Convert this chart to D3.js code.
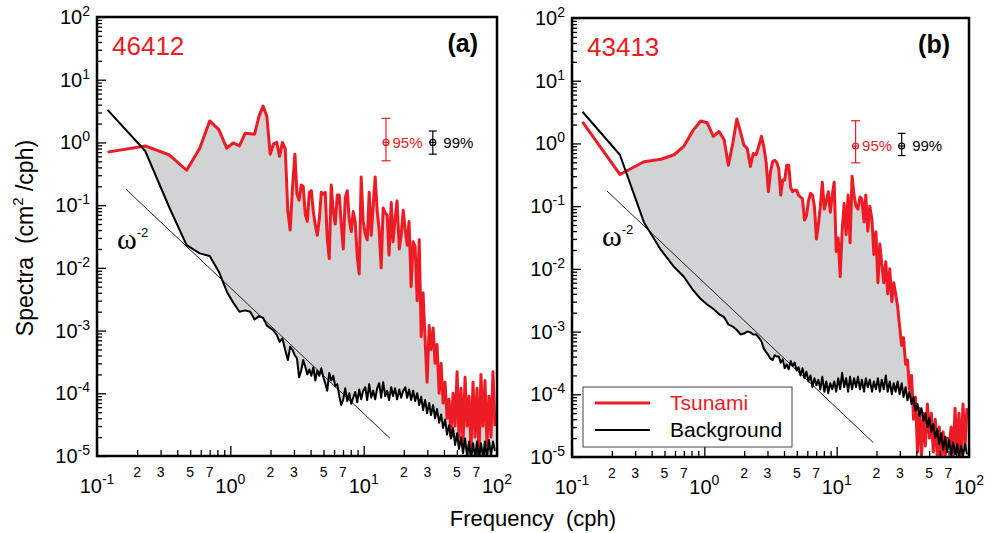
<!DOCTYPE html>
<html>
<head>
<meta charset="utf-8">
<script src="https://cdn.jsdelivr.net/npm/d3@7"></script>
<style>
  body { margin: 0; background: #fff; }
  svg text { font-family: "Liberation Sans", Arial, Helvetica, sans-serif; }
</style>
</head>
<body>
<svg id="chart" width="993" height="533"></svg>
<script>
// spectral estimates (cph, cm^2/cph)
const freq = [
  0.12, 0.23, 0.35, 0.47, 0.59, 0.70, 0.82, 0.94, 1.05, 1.17, 1.29, 1.41, 1.52, 1.64, 1.76,
  1.88, 1.99, 2.11, 2.23, 2.34, 2.46, 2.58, 2.70, 2.81, 2.93, 3.05, 3.16, 3.28, 3.40, 3.52,
  3.65, 3.78, 3.91, 4.05, 4.19, 4.34, 4.49, 4.65, 4.81, 4.98,
  5.15, 5.33, 5.52, 5.71, 5.91, 6.12, 6.34, 6.56, 6.79, 7.03,
  7.27, 7.53, 7.79, 8.07, 8.35, 8.64, 8.95, 9.26, 9.58, 9.92,
  10.27, 10.63, 11.0, 11.39, 11.79, 12.2, 12.63, 13.07, 13.53, 14.0,
  14.5, 15.0, 15.5, 16.1, 16.6, 17.2, 17.8, 18.5, 19.1, 19.8,
  20.5, 21.2, 21.9, 22.7, 23.5, 24.3, 25.2, 26.1, 27.0, 27.9,
  28.9, 29.9, 31.0, 32.0, 33.2, 34.3, 35.5, 36.8, 38.1, 39.4,
  40.8, 42.2, 43.7, 45.2, 46.8, 48.5, 50.2, 51.9, 53.7, 55.6,
  57.6, 59.6, 61.7, 63.8, 66.1, 68.4, 70.8, 73.3, 75.8, 78.5,
  81.3, 84.1, 87.0, 90.1, 93.3, 96.5
];

const tsunami46412 = [
  0.70, 0.88, 0.63, 0.36, 0.81, 2.2, 1.6, 0.81, 0.98, 0.88, 1.4, 1.38, 1.35, 2.6, 3.8,
  2.6, 0.65, 0.95, 1.0, 0.6, 1.0, 0.8, 0.08, 0.04, 0.2, 0.65, 0.15, 0.12, 0.21, 0.2,
  0.07, 0.055, 0.16, 0.17, 0.08, 0.048, 0.033, 0.06, 0.16, 0.15,
  0.16, 0.03, 0.014, 0.21, 0.08, 0.05, 0.145, 0.145, 0.05, 0.02,
  0.13, 0.17, 0.06, 0.038, 0.079, 0.055, 0.015, 0.008, 0.28, 0.055,
  0.035, 0.028, 0.16, 0.033, 0.10, 0.28, 0.08, 0.04, 0.010, 0.09,
  0.075, 0.069, 0.016, 0.11, 0.026, 0.06, 0.117, 0.02, 0.033, 0.083,
  0.04, 0.023, 0.055, 0.005, 0.026, 0.022, 0.003, 0.028, 8e-4, 0.004,
  7e-4, 1.5e-4, 1.2e-3, 5e-4, 1.1e-3, 3e-4, 6e-4, 1e-4, 3e-4, 7e-5,
  1.5e-4, 4e-5, 8e-5, 2e-5, 1e-4, 3e-5, 2.2e-4, 2e-5, 1.2e-4, 1.5e-5,
  1.8e-4, 3e-5, 9e-5, 1.2e-5, 1.5e-4, 2e-5, 1.2e-4, 1e-5, 2e-4, 3e-5,
  1.6e-4, 1.5e-5, 9e-5, 2e-5, 2.2e-4, 3e-5
];

const background46412 = [
  3.3, 0.73, 0.09, 0.023, 0.017, 0.0155, 0.0087, 0.0042, 0.0028, 0.002, 0.0021, 0.002, 0.0015, 0.0017, 0.0016,
  0.0012, 0.0011, 0.001, 8.5e-4, 6.6e-4, 7.5e-4, 4.9e-4, 3.4e-4, 5.5e-4, 4.9e-4, 4.0e-4, 3.6e-4, 1.8e-4, 2.3e-4, 3.4e-4,
  2.65e-4, 2.0e-4, 2.4e-4, 1.9e-4, 2.6e-4, 1.6e-4, 2.3e-4, 1.9e-4, 2.5e-4, 1.8e-4,
  1.44e-4, 1.1e-4, 2.1e-4, 1.6e-4, 1.9e-4, 1.3e-4, 1.4e-4, 9e-5, 6.5e-5, 8e-5,
  1.2e-4, 7.5e-5, 1.0e-4, 6.8e-5, 8.5e-5, 1.05e-4, 7.2e-5, 1.15e-4, 8e-5, 1.1e-4,
  1.25e-4, 7.8e-5, 1.4e-4, 8.5e-5, 1.1e-4, 8e-5, 1.2e-4, 1.45e-4, 8.5e-5, 1.5e-4,
  9e-5, 1.1e-4, 7.8e-5, 1.25e-4, 9e-5, 1.2e-4, 8e-5, 1.15e-4, 8.5e-5, 1.1e-4,
  1.25e-4, 8.5e-5, 1.15e-4, 7.8e-5, 1.1e-4, 7.5e-5, 1.0e-4, 6.5e-5, 8.8e-5, 5.4e-5,
  7.8e-5, 4.8e-5, 7e-5, 4.5e-5, 6.5e-5, 4e-5, 5.6e-5, 3.4e-5, 4.6e-5, 2.8e-5,
  3.8e-5, 2.2e-5, 3.1e-5, 1.9e-5, 2.8e-5, 1.5e-5, 2.3e-5, 1.3e-5, 2.0e-5, 1.1e-5,
  1.9e-5, 1.0e-5, 1.7e-5, 8.5e-6, 1.6e-5, 9.5e-6, 1.7e-5, 8.5e-6, 1.6e-5, 9.5e-6,
  1.7e-5, 9e-6, 1.8e-5, 1.0e-5, 1.7e-5, 1.2e-5
];

const tsunami43413 = [
  2.2, 0.32, 0.51, 0.56, 0.66, 0.9, 1.6, 2.28, 2.14, 1.3, 1.55, 1.15, 0.45, 1.0, 2.45,
  1.5, 0.94, 0.83, 0.43, 0.69, 0.66, 0.9, 1.3, 0.9, 0.5, 0.17, 0.35, 0.51, 0.54, 0.5,
  0.4, 0.15, 0.26, 0.26, 0.45, 0.45, 0.2, 0.17, 0.18, 0.18,
  0.15, 0.14, 0.13, 0.06, 0.07, 0.12, 0.16, 0.15, 0.1, 0.03,
  0.05, 0.1, 0.24, 0.09, 0.12, 0.17, 0.08, 0.15, 0.24, 0.019,
  0.031, 0.0075, 0.04, 0.11, 0.035, 0.15, 0.026, 0.3, 0.15, 0.1,
  0.09, 0.14, 0.13, 0.056, 0.15, 0.04, 0.1, 0.06, 0.017, 0.039,
  0.006, 0.025, 0.012, 0.006, 0.013, 0.004, 0.01, 0.003, 0.006, 0.004,
  2.5e-3, 1.2e-3, 6e-4, 8e-4, 3e-4, 3.5e-4, 1.2e-4, 2e-4, 4e-5, 9e-5,
  1.2e-5, 6e-5, 1e-5, 5e-5, 1.5e-5, 7e-5, 2e-5, 5e-5, 1.2e-5, 4e-5,
  1e-5, 3e-5, 8e-6, 2.5e-5, 1e-5, 2e-5, 1.5e-5, 3e-5, 1e-5, 6e-5,
  1.2e-5, 5e-5, 1e-5, 7e-5, 1.5e-5, 6e-5
];

const background43413 = [
  3.2, 0.66, 0.055, 0.02, 0.0108, 0.0075, 0.0046, 0.0033, 0.0027, 0.0023, 0.0019, 0.0017, 0.0013, 0.0012, 0.00106,
  9e-4, 9.3e-4, 1e-3, 9.7e-4, 9e-4, 9e-4, 8e-4, 7e-4, 5.4e-4, 4.7e-4, 4.2e-4, 3.7e-4, 3.5e-4, 4.2e-4, 4.0e-4,
  4.0e-4, 3.2e-4, 3.6e-4, 2.6e-4, 3.0e-4, 2.5e-4, 3.4e-4, 2.8e-4, 3.2e-4, 2.4e-4,
  2.7e-4, 2.0e-4, 2.6e-4, 1.8e-4, 2.3e-4, 1.6e-4, 2.0e-4, 1.3e-4, 1.8e-4, 1.4e-4,
  1.7e-4, 1.2e-4, 1.9e-4, 1.1e-4, 1.6e-4, 1.05e-4, 1.5e-4, 1.2e-4, 1.6e-4, 1.1e-4,
  1.8e-4, 1.2e-4, 2.2e-4, 1.3e-4, 1.8e-4, 1.1e-4, 1.9e-4, 1.2e-4, 1.8e-4, 1.3e-4,
  1.9e-4, 1.2e-4, 1.7e-4, 1.1e-4, 1.8e-4, 1.3e-4, 1.7e-4, 1.1e-4, 1.6e-4, 1.2e-4,
  1.8e-4, 1.1e-4, 1.7e-4, 1.2e-4, 2.0e-4, 1.1e-4, 1.6e-4, 1.0e-4, 1.5e-4, 1.1e-4,
  1.6e-4, 1.0e-4, 1.5e-4, 9e-5, 1.3e-4, 8e-5, 1.1e-4, 7e-5, 9e-5, 5.5e-5,
  7e-5, 4.5e-5, 6e-5, 3.8e-5, 5e-5, 3e-5, 4.2e-5, 2.5e-5, 3.4e-5, 2e-5,
  2.8e-5, 1.6e-5, 2.4e-5, 1.3e-5, 2.1e-5, 1.2e-5, 1.9e-5, 1.05e-5, 1.7e-5, 1.1e-5,
  1.6e-5, 1.0e-5, 1.5e-5, 1.05e-5, 1.6e-5, 1.1e-5
];

const stations = ["46412", "43413"];
const panelTags = ["(a)", "(b)"];
const xDecades = [-1, 0, 1, 2];
const yDecades = [-5, -4, -3, -2, -1, 0, 1, 2];
const xMinorLabels = [2, 3, 5, 7];
const legendNames = ["Tsunami", "Background"];

// omega^-2 reference line end points [freq, spectrum]
const slope46412 = [[0.165, 0.179], [15.8, 1.9e-5]];
const slope43413 = [[0.184, 0.174], [18.9, 1.7e-5]];

// confidence bars: [freq, low, centre, high]
const ci95 = [[14.7, 0.51, 1.0, 2.42], [13.9, 0.49, 0.91, 2.3]];
const ci99 = [[33, 0.65, 1.0, 1.52], [31, 0.64, 0.91, 1.45]];

const red = "#ed1c24";
const fillGray = "#d1d3d4";

function mySpectrumPanel(cfg) {

    let width = cfg.width;
    let height = cfg.height;

    function powerText(sel, e, big, small, up) {
        sel.append("tspan").attr("font-size", big).text("10");
        sel.append("tspan").attr("font-size", small).attr("dy", -up).text(e);
    }

    function my(selection) {
        let g = selection.append("g").attr("transform", `translate(${cfg.left},${cfg.top})`);

        let x = d3.scaleLog().domain([0.1, 100]).range([0, width]);
        let y = d3.scaleLog().domain([1e-5, 100]).range([height, 0]);

        let pts = freq.map((f, i) => ({f: f, ts: cfg.tsunami[i], bg: cfg.background[i]}));

        let defs = g.append("defs");
        defs.append("clipPath").attr("id", "plot-" + cfg.id)
            .append("rect").attr("width", width).attr("height", height);
        // region above the background curve
        defs.append("clipPath").attr("id", "above-" + cfg.id)
            .append("path")
            .attr("d", d3.area().x(d => x(d.f)).y0(-20).y1(d => y(d.bg))(pts));

        let plot = g.append("g").attr("clip-path", `url(#plot-${cfg.id})`);

        // shaded excess: under tsunami curve, above background curve
        plot.append("g").attr("clip-path", `url(#above-${cfg.id})`)
            .append("path")
            .attr("d", d3.area().x(d => x(d.f)).y0(height + 20).y1(d => y(d.ts))(pts))
            .attr("fill", fillGray);

        plot.append("path")
            .attr("d", d3.line().x(d => x(d[0])).y(d => y(d[1]))(cfg.slope))
            .attr("fill", "none").attr("stroke", "#231f20").attr("stroke-width", 1);

        plot.append("path")
            .attr("d", d3.line().x(d => x(d.f)).y(d => y(d.ts))(pts))
            .attr("fill", "none").attr("stroke", red)
            .attr("stroke-width", 3).attr("stroke-linejoin", "round");

        plot.append("path")
            .attr("d", d3.line().x(d => x(d.f)).y(d => y(d.bg))(pts))
            .attr("fill", "none").attr("stroke", "#000")
            .attr("stroke-width", 2).attr("stroke-linejoin", "round");

        // ticks, drawn inward
        let yMajor = yDecades.map(e => Math.pow(10, e));
        let yMinor = [];
        yDecades.slice(0, -1).forEach(e => { for (let k = 2; k < 10; k++) yMinor.push(k * Math.pow(10, e)); });
        let xMajor = xDecades.map(e => Math.pow(10, e));
        let xMinor = [];
        xDecades.slice(0, -1).forEach(e => { for (let k = 2; k < 10; k++) xMinor.push(k * Math.pow(10, e)); });

        let axes = g.append("g").attr("class", "axes");
        axes.append("g").call(d3.axisLeft(y).tickValues(yMinor).tickSize(-5).tickFormat(""));
        axes.append("g").call(d3.axisLeft(y).tickValues(yMajor).tickSize(-9).tickFormat(""));
        axes.append("g").attr("transform", `translate(0,${height})`)
            .call(d3.axisBottom(x).tickValues(xMinor).tickSize(-6).tickFormat(""));
        axes.append("g").attr("transform", `translate(0,${height})`)
            .call(d3.axisBottom(x).tickValues(xMajor).tickSize(-10).tickFormat(""));
        axes.selectAll(".domain").remove();
        axes.selectAll(".tick line").attr("stroke", "#000").attr("stroke-width", 1.3);

        // tick labels
        yDecades.forEach(e => {
            g.append("text")
                .attr("x", -7).attr("y", y(Math.pow(10, e)) + 7)
                .attr("text-anchor", "end").attr("fill", "#000")
                .call(powerText, e, "20px", "14px", 8);
        });
        xDecades.forEach(e => {
            g.append("text")
                .attr("x", x(Math.pow(10, e))).attr("y", height + 37)
                .attr("text-anchor", "middle").attr("fill", "#000")
                .call(powerText, e, "20px", "14px", 9);
        });
        xDecades.slice(0, -1).forEach(e => {
            xMinorLabels.forEach(k => {
                g.append("text")
                    .attr("x", x(k * Math.pow(10, e))).attr("y", height + 21)
                    .attr("text-anchor", "middle").attr("font-size", "14px")
                    .text(k);
            });
        });

        // confidence bars
        [[cfg.ci95, red, "95%", 6.5, 4.5], [cfg.ci99, "#000", "99%", 10.5, 4]].forEach(c => {
            let v = c[0], cx = x(v[0]), cy = y(v[2]);
            let bar = g.append("g").attr("stroke", c[1]).attr("stroke-width", 1.2).attr("fill", "none");
            bar.append("line").attr("x1", cx).attr("x2", cx).attr("y1", y(v[1])).attr("y2", y(v[3]));
            bar.append("line").attr("x1", cx - c[4]).attr("x2", cx + c[4]).attr("y1", y(v[1])).attr("y2", y(v[1]));
            bar.append("line").attr("x1", cx - c[4]).attr("x2", cx + c[4]).attr("y1", y(v[3])).attr("y2", y(v[3]));
            bar.append("circle").attr("cx", cx).attr("cy", cy).attr("r", 3);
            bar.append("line").attr("x1", cx - 3).attr("x2", cx + 3).attr("y1", cy).attr("y2", cy);
            g.append("text").attr("x", cx + c[3]).attr("y", cy + 5.5)
                .attr("font-size", "15px").attr("fill", c[1]).text(c[2]);
        });

        // omega^-2 label
        let om = g.append("text").attr("x", cfg.omega[0]).attr("y", cfg.omega[1]).attr("fill", "#000");
        om.append("tspan").attr("font-family", "'Liberation Serif', 'Times New Roman', serif")
            .attr("font-size", "30px").text("\u03c9");
        om.append("tspan").attr("font-size", "13px").attr("dy", -12).text("-2");

        g.append("text").attr("x", 15).attr("y", 38)
            .attr("font-size", "26px").attr("fill", red).text(cfg.station);
        g.append("text").attr("x", width - 19).attr("y", 35)
            .attr("text-anchor", "end").attr("font-size", "25px").attr("font-weight", "bold")
            .text(cfg.tag);

        if (cfg.legend) {
            let lg = g.append("g").attr("transform", "translate(11,369)");
            lg.append("rect").attr("width", 209).attr("height", 60)
                .attr("fill", "#fff").attr("stroke", "#444").attr("stroke-width", 1);
            lg.append("line").attr("x1", 12).attr("x2", 67).attr("y1", 16).attr("y2", 16)
                .attr("stroke", red).attr("stroke-width", 3);
            lg.append("line").attr("x1", 12).attr("x2", 67).attr("y1", 43).attr("y2", 43)
                .attr("stroke", "#000").attr("stroke-width", 2);
            lg.append("text").attr("x", 87).attr("y", 23).attr("font-size", "21px")
                .attr("fill", red).text(legendNames[0]);
            lg.append("text").attr("x", 87).attr("y", 50).attr("font-size", "21px")
                .attr("fill", "#000").text(legendNames[1]);
        }

        g.append("rect").attr("width", width).attr("height", height)
            .attr("fill", "none").attr("stroke", "#000").attr("stroke-width", 2.5);
    }

    my.width = function(value) {
        if (!arguments.length) return width;
        width = value;
        return my;
    }

    my.height = function(value) {
        if (!arguments.length) return height;
        height = value;
        return my;
    }

    return my;
}

let svg = d3.select("#chart");
svg.append("rect").attr("width", 993).attr("height", 533).attr("fill", "#fff");

svg.call(mySpectrumPanel({
    id: "a", left: 97, top: 17, width: 400, height: 439,
    tsunami: tsunami46412, background: background46412,
    station: stations[0], tag: panelTags[0], slope: slope46412,
    ci95: ci95[0], ci99: ci99[0], omega: [20, 232], legend: false
}));

svg.call(mySpectrumPanel({
    id: "b", left: 572, top: 18, width: 397, height: 439,
    tsunami: tsunami43413, background: background43413,
    station: stations[1], tag: panelTags[1], slope: slope43413,
    ci95: ci95[1], ci99: ci99[1], omega: [30, 228], legend: true
}));

// axis titles
let yTitle = svg.append("text")
    .attr("transform", "translate(33,238) rotate(-90)")
    .attr("text-anchor", "middle").attr("font-size", "23px")
    .attr("xml:space", "preserve");
yTitle.append("tspan").text("Spectra  (cm");
yTitle.append("tspan").attr("font-size", "15px").attr("dy", -10).text("2");
yTitle.append("tspan").attr("dy", 10).text(" /cph)");

svg.append("text")
    .attr("x", 533).attr("y", 526)
    .attr("text-anchor", "middle").attr("font-size", "22px")
    .attr("xml:space", "preserve")
    .text("Frequency  (cph)");
</script>
</body>
</html>
